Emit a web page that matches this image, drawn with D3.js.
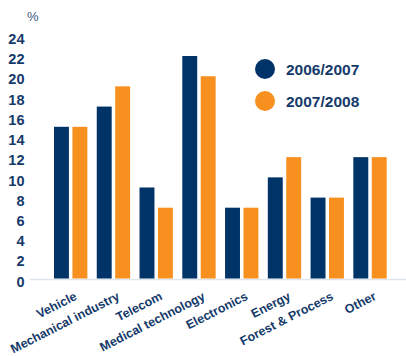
<!DOCTYPE html>
<html>
<head>
<meta charset="utf-8">
<script src="https://cdn.jsdelivr.net/npm/d3@7"></script>
<style>
  body { margin: 0; background: #fff; }
  svg { display: block; font-family: "Liberation Sans", Arial, sans-serif; }
</style>
</head>
<body>
<svg></svg>
<script>
const categories = ['Vehicle', 'Mechanical industry', 'Telecom', 'Medical technology',
  'Electronics', 'Energy', 'Forest & Process', 'Other'];
const series = ['2006/2007', '2007/2008'];
const values2006 = [15, 17, 9, 22, 7, 10, 8, 12];
const values2007 = [15, 19, 7, 20, 7, 12, 8, 12];
const yTicks = [0, 2, 4, 6, 8, 10, 12, 14, 16, 18, 20, 22, 24];

const [svgWidth, svgHeight] = [406, 356];
const navy = '#003468';
const orange = '#f7901e';
const textColor = '#153a6a';
const colors = [navy, orange];

const svg = d3.select('svg')
  .attr('width', svgWidth)
  .attr('height', svgHeight);

const x = d3.scaleBand()
  .domain(categories)
  .range([49.3, 391.4])
  .paddingInner(0.22)
  .paddingOuter(0.11);
const xSub = d3.scaleBand()
  .domain(series)
  .range([0, x.bandwidth()])
  .paddingInner(0.19);
const y = d3.scaleLinear()
  .domain([0, 22])
  .range([278.5, 56]);

// baseline
svg.append('line')
  .attr('x1', 30).attr('x2', svgWidth)
  .attr('y1', y(0) + 1).attr('y2', y(0) + 1)
  .attr('stroke', '#dfe5ec')
  .attr('stroke-width', 1.5);

// y axis
const yAxis = svg.append('g')
  .attr('transform', 'translate(24.5, 3)')
  .call(d3.axisLeft(y).tickValues(yTicks).tickSize(0).tickPadding(0));
yAxis.select('.domain').remove();
yAxis.selectAll('text')
  .attr('fill', textColor)
  .attr('font-size', 14.5)
  .attr('font-weight', 'bold')
  .attr('font-family', '"Liberation Sans", Arial, sans-serif');

svg.append('text')
  .attr('x', 27)
  .attr('y', 21)
  .attr('fill', '#3a5784')
  .attr('font-size', 13)
  .text('%');

// bars
const data = categories.map((c, i) => ({ cat: c, vals: [values2006[i], values2007[i]] }));
const groups = svg.append('g').selectAll('g')
  .data(data)
  .enter()
  .append('g')
  .attr('transform', d => `translate(${x(d.cat)}, 0)`);
groups.selectAll('rect')
  .data(d => d.vals.map((v, k) => ({ s: series[k], v, k })))
  .enter()
  .append('rect')
  .attr('x', d => xSub(d.s))
  .attr('width', xSub.bandwidth())
  .attr('y', d => y(d.v))
  .attr('height', d => y(0) - y(d.v))
  .attr('fill', d => colors[d.k]);

// category labels
svg.append('g').selectAll('text')
  .data(categories)
  .enter()
  .append('text')
  .attr('transform', d => `translate(${x(d) + x.bandwidth() / 2 + 7}, 299) rotate(-27)`)
  .attr('text-anchor', 'end')
  .attr('fill', textColor)
  .attr('font-size', 12.5)
  .attr('font-weight', 'bold')
  .text(d => d);

// legend
const legend = svg.append('g').selectAll('g')
  .data(series)
  .enter()
  .append('g')
  .attr('transform', (d, i) => `translate(265, ${69 + i * 32})`);
legend.append('circle')
  .attr('r', 10)
  .attr('fill', (d, i) => colors[i]);
legend.append('text')
  .attr('x', 21)
  .attr('y', 0)
  .attr('dy', '0.36em')
  .attr('fill', textColor)
  .attr('font-size', 15.5)
  .attr('font-weight', 'bold')
  .text(d => d);
</script>
</body>
</html>
